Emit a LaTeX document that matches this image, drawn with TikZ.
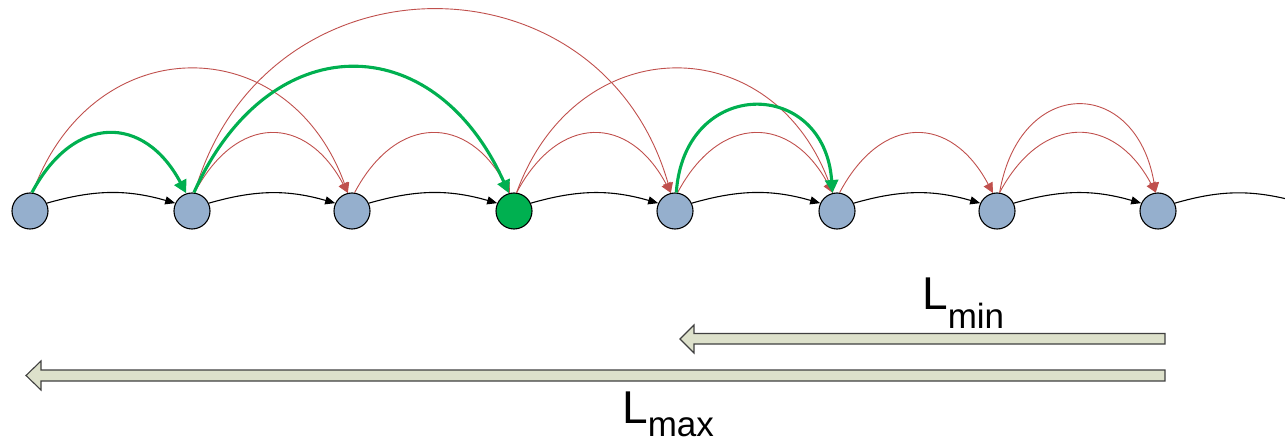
\documentclass[tikz,border=0pt]{standalone}
\usepackage{fontspec}
\setmainfont{Liberation Sans}
\usetikzlibrary{arrows.meta}
\definecolor{nodeblue}{HTML}{95AFCD}
\definecolor{hopgreen}{HTML}{00B050}
\definecolor{linkred}{HTML}{C0504D}
\definecolor{barfill}{HTML}{DDE1CB}
\definecolor{barline}{HTML}{404040}
\begin{document}
\begin{tikzpicture}[x=1pt,y=-1pt,
  peer/.style={circle,draw=black,line width=1.1pt,fill=nodeblue,minimum size=36pt,inner sep=0pt},
  succ/.style={draw=black,line width=1.1pt,-{Triangle[length=10pt,width=8pt]}},
  shortcut/.style={draw=linkred,line width=0.9pt,-{Triangle[length=10pt,width=10pt]}},
  hop/.style={draw=hopgreen,line width=3.1pt,-{Triangle[length=13pt,width=13pt]}},
  bar/.style={draw=barline,line width=1.1pt,fill=barfill,line join=miter},
  lenlabel/.style={inner sep=0pt,anchor=base west,font=\fontsize{46}{46}\selectfont}
]
\useasboundingbox (0,0) rectangle (1285,446);
\clip (0,0) rectangle (1285,446);

% ring of peers
\node[peer] (n1) at (30,211) {};
\node[peer] (n2) at (192,211) {};
\node[peer] (n3) at (352,211) {};
\node[peer,fill=hopgreen] (n4) at (514,211) {};
\node[peer] (n5) at (675,211) {};
\node[peer] (n6) at (837,211) {};
\node[peer] (n7) at (997,211) {};
\node[peer] (n8) at (1158,211) {};
\coordinate (n9) at (1302,203);

% successor links
\draw[succ] (n1.25) to[bend left=16] (n2.155);
\draw[succ] (n2.25) to[bend left=16] (n3.155);
\draw[succ] (n3.25) to[bend left=16] (n4.155);
\draw[succ] (n4.25) to[bend left=16] (n5.155);
\draw[succ] (n5.25) to[bend left=16] (n6.155);
\draw[succ] (n6.25) to[bend left=16] (n7.155);
\draw[succ] (n7.25) to[bend left=16] (n8.155);
\draw[draw=black,line width=1.1pt] (n8.25) to[bend left=16] (n9);

% finger links
\draw[shortcut] (n1.82) .. controls +(60,-165) and +(-60,-165) .. (n3.103);
\draw[shortcut] (n2.82) .. controls +(42,-79) and +(-42,-79) .. (n3.103);
\draw[shortcut] (n2.82) .. controls +(70,-244) and +(-70,-244) .. (n5.103);
\draw[shortcut] (n3.82) .. controls +(42,-79) and +(-42,-79) .. (n4.103);
\draw[shortcut] (n4.82) .. controls +(42,-79) and +(-42,-79) .. (n5.103);
\draw[shortcut] (n4.82) .. controls +(60,-165) and +(-60,-165) .. (n6.103);
\draw[shortcut] (n5.82) .. controls +(42,-79) and +(-42,-79) .. (n6.103);
\draw[shortcut] (n6.82) .. controls +(42,-79) and +(-42,-79) .. (n7.103);
\draw[shortcut] (n7.82) .. controls +(42,-79) and +(-42,-79) .. (n8.97);
\draw[shortcut] (n7.82) .. controls +(20,-117) and +(-20,-117) .. (n8.97);

% lookup path
\draw[hop] (n1.84) .. controls +(42,-79) and +(-42,-79) .. (n2.108);
\draw[hop] (n2.84) .. controls +(75,-167) and +(-75,-167) .. (n4.106);
\draw[hop] (n5.86) .. controls +(8,-116) and +(-8,-116) .. (n6.104);

% length bars
\draw[bar] (1165,333.5) -- (694,333.5) -- (694,325) -- (680,339) -- (694,353)
  -- (694,344) -- (1165,344) -- cycle;
\draw[bar] (1165,370) -- (41,370) -- (41,361) -- (26,375.5) -- (41,390)
  -- (41,381) -- (1165,381) -- cycle;

\node[lenlabel] (lmin) at (922,309) {L\raisebox{-19pt}{\fontsize{35}{35}\selectfont min}};
\node[lenlabel] (lmax) at (622,423) {L\raisebox{-13pt}{\fontsize{35}{35}\selectfont max}};
\end{tikzpicture}
\end{document}
